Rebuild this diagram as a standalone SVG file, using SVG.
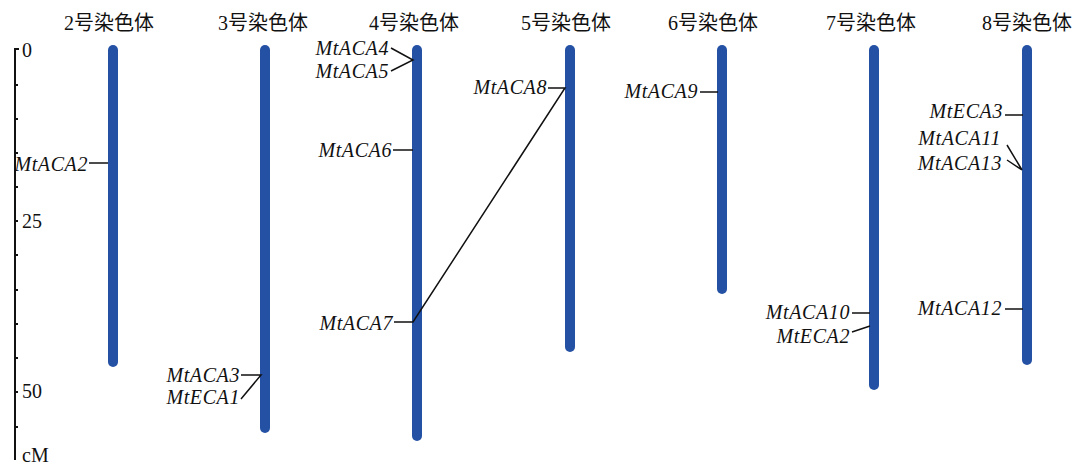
<svg xmlns="http://www.w3.org/2000/svg" width="1075" height="464" viewBox="0 0 1075 464">
<style>
.title{font-family:"Liberation Serif","Noto Sans CJK SC",serif;font-size:20px;fill:#111;text-anchor:middle}
.ax{font-family:"Liberation Serif",serif;font-size:20px;fill:#111}
.g{font-family:"Liberation Serif",serif;font-style:italic;font-size:20px;letter-spacing:0.6px;fill:#111;text-anchor:end}
.chr{stroke:#2451a4;stroke-width:10;stroke-linecap:round;fill:none}
.ln{stroke:#111;stroke-width:1.5;fill:none}
.axl{stroke:#111;stroke-width:2;fill:none}
</style>
<rect width="1075" height="464" fill="#fff"/>
<g id="axis">
<path class="axl" d="M15 49V460M14 49H19M15 85H18M15 119H18M15 153H18M15 187H18M15 221H18M15 255H18M15 290H18M15 324H18M15 358H18M15 392H18M15 427H18"/>
<text class="ax" x="22" y="57">0</text>
<text class="ax" x="22" y="228">25</text>
<text class="ax" x="22" y="398">50</text>
<text class="ax" x="22" y="462">cM</text>
</g>
<g id="chr2"><text class="title" x="109" y="30">2号染色体</text><line class="chr" x1="113" y1="50" x2="113" y2="362"/></g>
<g id="chr3"><text class="title" x="263" y="30">3号染色体</text><line class="chr" x1="265" y1="50" x2="265" y2="428"/></g>
<g id="chr4"><text class="title" x="414" y="30">4号染色体</text><line class="chr" x1="417" y1="50" x2="417" y2="436"/></g>
<g id="chr5"><text class="title" x="566" y="30">5号染色体</text><line class="chr" x1="570" y1="50" x2="570" y2="347"/></g>
<g id="chr6"><text class="title" x="713" y="30">6号染色体</text><line class="chr" x1="722" y1="50" x2="722" y2="289"/></g>
<g id="chr7"><text class="title" x="871" y="30">7号染色体</text><line class="chr" x1="874" y1="50" x2="874" y2="385"/></g>
<g id="chr8"><text class="title" x="1027" y="30">8号染色体</text><line class="chr" x1="1027" y1="50" x2="1027" y2="360"/></g>
<g id="labels">
<text class="g" x="88" y="171">MtACA2</text>
<text class="g" x="240" y="382">MtACA3</text>
<text class="g" x="240" y="404">MtECA1</text>
<text class="g" x="389" y="55">MtACA4</text>
<text class="g" x="389" y="78">MtACA5</text>
<text class="g" x="392" y="157">MtACA6</text>
<text class="g" x="393" y="330">MtACA7</text>
<text class="g" x="547" y="94">MtACA8</text>
<text class="g" x="698" y="98">MtACA9</text>
<text class="g" x="850" y="319">MtACA10</text>
<text class="g" x="850" y="343">MtECA2</text>
<text class="g" x="1003" y="118">MtECA3</text>
<text class="g" x="1001" y="145">MtACA11</text>
<text class="g" x="1002" y="170">MtACA13</text>
<text class="g" x="1002" y="315">MtACA12</text>
</g>
<g id="connectors">
<path class="ln" d="M89 163H108"/>
<path class="ln" d="M241 375H261L241 399"/>
<path class="ln" d="M391 48L413 60L391 71"/>
<path class="ln" d="M393 150H413"/>
<path class="ln" d="M394 322H413L565 88H548"/>
<path class="ln" d="M700 92H718"/>
<path class="ln" d="M852 313H870M852 332L870 326"/>
<path class="ln" d="M1005 115H1023M1007 145L1022 170L1007 160"/>
<path class="ln" d="M1005 309H1023"/>
</g>
</svg>
